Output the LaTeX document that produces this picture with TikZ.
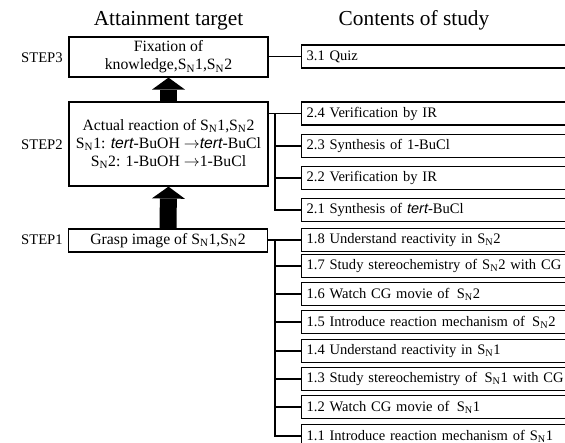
\documentclass[tikz,border=0pt]{standalone}
\usepackage{fontspec}
\setmainfont{Liberation Serif}
\newfontfamily\tertfont{Liberation Sans}
\usetikzlibrary{arrows.meta}
\newcommand{\SN}{S\textsubscript{N}}
\newcommand{\tert}{{\tertfont\itshape tert}}

\begin{document}
\begin{tikzpicture}[x=0.75pt,y=-0.75pt,
  target box/.style={rectangle,draw,line width=0.9pt,inner sep=0.,minimum width=149.25pt,align=center,font=\fontsize{11.8}{13.6}\selectfont},
  study box/.style={rectangle,draw,line width=0.9pt,inner ysep=0.,inner xsep=3.75pt,anchor=west,minimum height=17.25pt,text width=260pt,align=left,font=\fontsize{10.9}{13}\selectfont},
  step label/.style={anchor=east,inner sep=0.,font=\fontsize{11}{13}\selectfont},
  head label/.style={inner sep=0.,font=\fontsize{16}{18}\selectfont},
  link/.style={line width=0.9pt},
  up arrow/.style={line width=12.75pt,-{Triangle[width=24.75pt,length=9pt,line width=0pt]}}]%
  \useasboundingbox (0., 0.) rectangle (565., 443.);
  \clip (0., 0.) rectangle (565., 443.);
  \node[head label] (ht) at (168.5, 21.) {Attainment target};
  \node[head label] (hc) at (414., 20.) {Contents of study};
  \node[target box,minimum height=30pt] (s3) at (168.5, 57.) {Fixation of\\knowledge,\SN1,\SN2};
  \node[target box,minimum height=63pt] (s2) at (168.5, 144.) {Actual reaction of \SN1,\SN2\\\SN1: \tert-BuOH $\rightarrow$\tert-BuCl\\\SN2: 1-BuOH $\rightarrow$1-BuCl};
  \node[target box,minimum height=17.25pt] (s1) at (168., 240.5) {Grasp image of \SN1,\SN2};
  \node[step label] (l3) at (63., 58.) {STEP3};
  \node[step label] (l2) at (63., 145.) {STEP2};
  \node[step label] (l1) at (63., 240.) {STEP1};
  \draw[up arrow] (s2.north) -- (s3.south);
  \draw[up arrow] (s1.north) -- (s2.south);
  \node[study box] (c31) at (301., 56.5) {3.1 Quiz};
  \node[study box] (c24) at (301., 113.5) {2.4 Verification by IR};
  \node[study box] (c23) at (301., 146.) {2.3 Synthesis of 1-BuCl};
  \node[study box] (c22) at (301., 178.) {2.2 Verification by IR};
  \node[study box] (c21) at (301., 210.) {2.1 Synthesis of \tert-BuCl};
  \node[study box] (c18) at (301., 240.) {1.8 Understand reactivity in \SN2};
  \node[study box] (c17) at (301., 266.) {1.7 Study stereochemistry of \SN2 with CG};
  \node[study box] (c16) at (301., 294.) {1.6 Watch CG movie of\, \SN2};
  \node[study box] (c15) at (301., 322.) {1.5 Introduce reaction mechanism of\, \SN2};
  \node[study box] (c14) at (301., 351.) {1.4 Understand reactivity in \SN1};
  \node[study box] (c13) at (301., 379.) {1.3 Study stereochemistry of\, \SN1 with CG};
  \node[study box] (c12) at (301., 407.) {1.2 Watch CG movie of\, \SN1};
  \node[study box] (c11) at (301., 436.) {1.1 Introduce reaction mechanism of \SN1};
  \coordinate (bus) at (275., 0.);
  \draw[link] (s3.east |- c31) -- (c31.west);
  \draw[link] (s2.east |- c24) -- (c24.west);
  \draw[link] (bus |- c24) |- (c21.west);
  \draw[link] (bus |- c23) -- (c23.west);
  \draw[link] (bus |- c22) -- (c22.west);
  \draw[link] (s1.east |- c18) -- (c18.west);
  \draw[link] (bus |- c18) |- (c11.west);
  \foreach \n in {c17,c16,c15,c14,c13,c12}
    \draw[link] (bus |- \n) -- (\n.west);
\end{tikzpicture}
\end{document}
